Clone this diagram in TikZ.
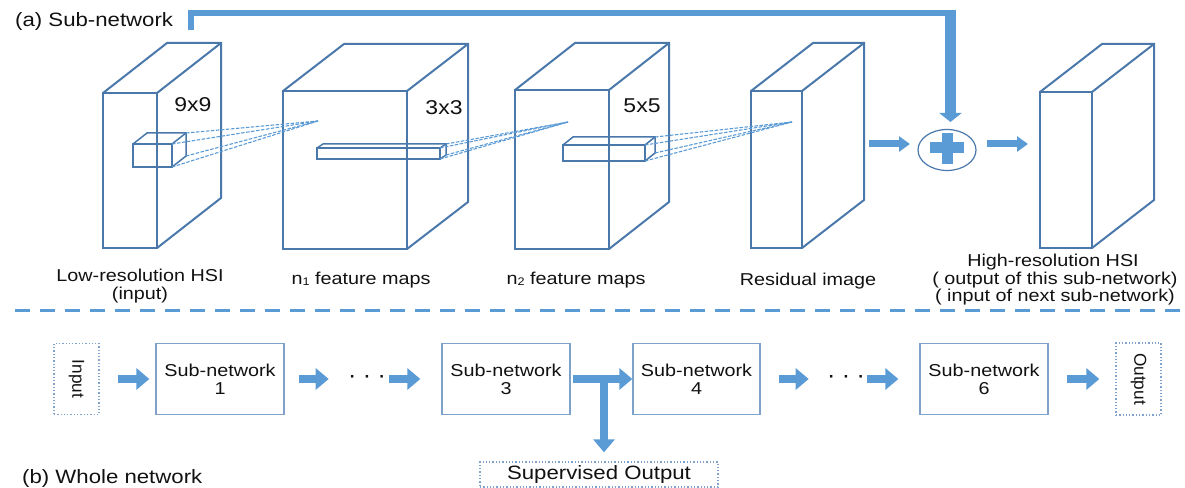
\documentclass[tikz,border=0pt]{standalone}
\usepackage{fontspec}
\setmainfont{Liberation Sans}
\usetikzlibrary{arrows.meta,shapes.geometric}
\definecolor{ablue}{HTML}{5B9BD5}
\definecolor{cedge}{HTML}{4A78AB}
\definecolor{bedge}{HTML}{7FA2CB}
\definecolor{txt}{HTML}{111111}
\newcommand{\sx}[1]{\scalebox{1.15}[1]{#1}}
\newcommand{\labfont}{\fontsize{17.2bp}{18bp}\selectfont}
\newcommand{\hdfont}{\fontsize{19.3bp}{22bp}\selectfont}
\newcommand{\szfont}{\fontsize{20bp}{22bp}\selectfont}
\newcommand{\mycube}[7][]{%
  \draw[cubeline,#1] (#2,#3) rectangle (#4,#5);
  \draw[cubeline,#1] (#2,#3) -- ++(#6,#7) -- ++({#4-#2},0) -- ++(0,{#5-#3}) -- (#4,#5);
  \draw[cubeline,#1] (#4,#3) -- ++(#6,#7);
}
\begin{document}
\begin{tikzpicture}[x=1bp,y=-1bp,
  cubeline/.style={draw=cedge,line width=2bp},
  dashlink/.style={draw=ablue,line width=1.1bp,dash pattern=on 3.5bp off 1.5bp},
  lab/.style={inner sep=0,anchor=base,font=\labfont,text=txt},
  hd/.style={inner sep=0,font=\hdfont,text=txt},
  topfat/.style={draw=ablue,line width=7bp,-{Triangle[length=11bp,width=15bp]}},
  fat/.style={draw=ablue,line width=8.5bp,-{Triangle[length=13bp,width=21bp]}},
  boxsty/.style={draw=bedge,line width=1.3bp,minimum height=71bp,inner sep=0,font=\labfont,text=txt,align=center},
  dotbox/.style={draw=bedge,line width=1.3bp,dotted,inner sep=0},
  sep/.style={draw=ablue,line width=3bp,dash pattern=on 15bp off 10bp}
]
\useasboundingbox (0,0) rectangle (1185,488);

% header
\node[hd,anchor=base west] (ha) at (15,27) {\sx{(a) Sub-network}};

% cubes
\mycube{103}{93}{157}{248}{64}{-50}
\mycube[line width=1.5bp]{133}{144}{172}{167}{14}{-11}
\mycube{283}{91}{407}{249}{61}{-47}
\mycube[line width=1.5bp]{317}{148}{440}{159}{6}{-4}
\mycube{515}{90}{609}{249}{60}{-47}
\mycube[line width=1.5bp]{563}{145}{645}{161}{10}{-8}
\mycube{751}{91}{802}{248}{62}{-48}
\mycube{1040}{92}{1092}{248}{62}{-48}

% dashed receptive-field lines
\coordinate (f1) at (318,121);
\coordinate (f2) at (568,122);
\coordinate (f3) at (792,122);
\foreach \p in {(172,144),(172,167),(186,133),(186,156)} \draw[dashlink] \p -- (f1);
\foreach \p in {(440,148),(440,159),(446,144),(446,155)} \draw[dashlink] \p -- (f2);
\foreach \p in {(645,145),(645,161),(655,137),(655,153)} \draw[dashlink] \p -- (f3);

% kernel sizes
\node[lab,font=\szfont] (k1) at (193,112) {\sx{9x9}};
\node[lab,font=\szfont] (k2) at (444,115) {\sx{3x3}};
\node[lab,font=\szfont] (k3) at (642,113) {\sx{5x5}};

% plus node
\node[draw=cedge,line width=1.2bp,ellipse,minimum width=58bp,minimum height=41bp,inner sep=0] (plus) at (947,150) {};
\fill[ablue] (930,142.5) rectangle (964,153.5);
\fill[ablue] (941.5,133) rectangle (952.5,164);

% skip connection
\coordinate (sk0) at (191,30);
\coordinate (sk1) at (191,13);
\coordinate (sk2) at (950.5,13);
\coordinate (sk3) at (950.5,9.75);
\coordinate (sk4) at (950.5,122);
\draw[draw=ablue,line width=6.5bp] (sk0) -- (sk1) -- (sk2);
\draw[draw=ablue,line width=10.5bp,-{Triangle[length=9bp,width=22bp]}] (sk3) -- (sk4);

% residual -> plus -> output
\coordinate (ra) at (869,144);
\coordinate (rb) at (910,144);
\coordinate (pa) at (987,144);
\coordinate (pb) at (1028,144);
\draw[topfat] (ra) -- (rb);
\draw[topfat] (pa) -- (pb);

% labels under cubes
\node[lab] (l1) at (140,282) {\sx{Low-resolution HSI}};
\node[lab] (l2) at (140,299.5) {\sx{(input)}};
\node[lab] (l3) at (361,285) {\sx{n\raisebox{-1bp}{\fontsize{11bp}{11bp}\selectfont 1} feature maps}};
\node[lab] (l4) at (576,285) {\sx{n\raisebox{-1bp}{\fontsize{11bp}{11bp}\selectfont 2} feature maps}};
\node[lab] (l5) at (808,286) {\sx{Residual image}};
\node[lab] (l6) at (1053,267) {\sx{High-resolution HSI}};
\node[lab] (l7) at (1055,285) {\sx{( output of this sub-network)}};
\node[lab] (l8) at (1055,302) {\sx{( input of next sub-network)}};

% separator
\coordinate (sl) at (15,311);
\coordinate (sr) at (1185,311);
\draw[sep] (sl) -- (sr);

% whole network
\node[dotbox,minimum width=45bp,minimum height=71bp] (in) at (76.5,379) {};
\node[rotate=-90,inner sep=0,font=\labfont,text=txt] (intext) at (in.center) {Input};
\node[boxsty,minimum width=128bp] (sn1) at (220,379) {\sx{Sub-network}\\\sx{1}};
\node[inner sep=0,font=\labfont\bfseries,text=txt] (d1) at (367.5,379) {\textperiodcentered\hspace{9bp}\textperiodcentered\hspace{9bp}\textperiodcentered};
\node[boxsty,minimum width=128bp] (sn3) at (506,379) {\sx{Sub-network}\\\sx{3}};
\node[boxsty,minimum width=127bp] (sn4) at (696.5,379) {\sx{Sub-network}\\\sx{4}};
\node[inner sep=0,font=\labfont\bfseries,text=txt] (d2) at (846.5,379) {\textperiodcentered\hspace{9bp}\textperiodcentered\hspace{9bp}\textperiodcentered};
\node[boxsty,minimum width=128bp] (sn6) at (984,379) {\sx{Sub-network}\\\sx{6}};
\node[dotbox,minimum width=45bp,minimum height=72bp] (out) at (1138.5,379) {};
\node[rotate=-90,inner sep=0,font=\labfont,text=txt] (outtext) at (out.center) {Output};
\node[dotbox,minimum width=238bp,minimum height=25bp,font=\hdfont,text=txt] (sup) at (599,474.5) {\sx{Supervised Output}};
\node[hd,anchor=base west] (hb) at (22,483) {\sx{(b) Whole network}};

\draw[fat,shorten <=18bp,shorten >=6bp] (in.east) -- (sn1.west);
\draw[fat,shorten <=14bp,shorten >=21bp] (sn1.east) -- (d1.west);
\draw[fat,shorten <=4bp,shorten >=21bp] (d1.east) -- (sn3.west);
\draw[fat,shorten <=2bp] (sn3.east) -- (sn4.west);
\coordinate (tj) at (604,379);
\draw[fat,shorten >=9bp] (tj) -- (tj |- sup.north);
\draw[fat,shorten <=18bp,shorten >=20bp] (sn4.east) -- (d2.west);
\draw[fat,shorten <=3bp,shorten >=21bp] (d2.east) -- (sn6.west);
\draw[fat,shorten <=18bp,shorten >=16bp] (sn6.east) -- (out.west);
\end{tikzpicture}
\end{document}
